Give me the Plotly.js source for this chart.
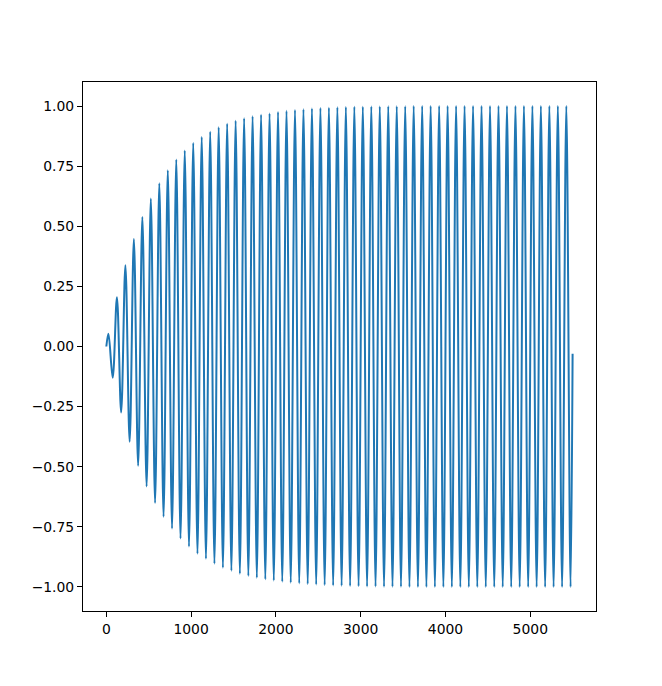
<!DOCTYPE html>
<html>
<head>
<meta charset="utf-8">
<script src="https://cdn.plot.ly/plotly-3.0.1.min.js"></script>
<style>
  html, body { margin: 0; padding: 0; background: #ffffff; }
  #chart { width: 662px; height: 686px; }
</style>
</head>
<body>
<div id="chart"></div>
<script>
// Values.
const startPoint = { x: 0, y: 0 };
const endPoint = { x: 5499, y: -0.03 };

const peakX = [25, 125, 225, 325, 425, 525, 625, 725, 825, 925,
  1025, 1125, 1225, 1325, 1425, 1525, 1625, 1725, 1825, 1925,
  2025, 2125, 2225, 2325, 2425, 2525, 2625, 2725, 2825, 2925,
  3025, 3125, 3225, 3325, 3425, 3525, 3625, 3725, 3825, 3925,
  4025, 4125, 4225, 4325, 4425, 4525, 4625, 4725, 4825, 4925,
  5025, 5125, 5225, 5325, 5425];

const peakValues = [0.053, 0.205, 0.338, 0.447, 0.539, 0.615, 0.679, 0.733, 0.778, 0.815,
  0.846, 0.871, 0.893, 0.912, 0.926, 0.939, 0.949, 0.958, 0.964, 0.969,
  0.975, 0.980, 0.984, 0.987, 0.990, 0.992, 0.993, 0.995, 0.996, 0.997,
  0.997, 0.998, 0.998, 0.999, 0.999, 0.999, 1.0, 1.0, 1.0, 1.0,
  1.0, 1.0, 1.0, 1.0, 1.0, 1.0, 1.0, 1.0, 1.0, 1.0,
  1.0, 1.0, 1.0, 1.0, 1.0];

const troughX = [75, 175, 275, 375, 475, 575, 675, 775, 875, 975,
  1075, 1175, 1275, 1375, 1475, 1575, 1675, 1775, 1875, 1975,
  2075, 2175, 2275, 2375, 2475, 2575, 2675, 2775, 2875, 2975,
  3075, 3175, 3275, 3375, 3475, 3575, 3675, 3775, 3875, 3975,
  4075, 4175, 4275, 4375, 4475, 4575, 4675, 4775, 4875, 4975,
  5075, 5175, 5275, 5375, 5475];

const troughValues = [-0.130, -0.274, -0.396, -0.496, -0.582, -0.651, -0.708, -0.757, -0.799, -0.832,
  -0.862, -0.883, -0.903, -0.920, -0.933, -0.945, -0.954, -0.962, -0.968, -0.973,
  -0.978, -0.982, -0.985, -0.988, -0.990, -0.992, -0.994, -0.995, -0.996, -0.997,
  -0.998, -0.998, -0.999, -0.999, -0.999, -1.0, -1.0, -1.0, -1.0, -1.0,
  -1.0, -1.0, -1.0, -1.0, -1.0, -1.0, -1.0, -1.0, -1.0, -1.0,
  -1.0, -1.0, -1.0, -1.0, -1.0];

const xTickValues = [0, 1000, 2000, 3000, 4000, 5000];
const xTickLabels = ['0', '1000', '2000', '3000', '4000', '5000'];
const yTickValues = [-1.0, -0.75, -0.5, -0.25, 0, 0.25, 0.5, 0.75, 1.0];
const yTickLabels = ['\u22121.00', '\u22120.75', '\u22120.50', '\u22120.25', '0.00', '0.25', '0.50', '0.75', '1.00'];

// Interleave turning points into one line
const xs = [startPoint.x];
const ys = [startPoint.y];
for (let i = 0; i < peakX.length; i++) {
  xs.push(peakX[i]); ys.push(peakValues[i]);
  xs.push(troughX[i]); ys.push(troughValues[i]);
}
xs.push(endPoint.x); ys.push(endPoint.y);

const trace = {
  x: xs, y: ys,
  type: 'scatter', mode: 'lines',
  line: { color: '#1f77b4', width: 2, shape: 'spline', smoothing: 1 },
  hoverinfo: 'skip'
};

const axisCommon = {
  showgrid: false, zeroline: false,
  showline: true, mirror: true, linecolor: '#000000', linewidth: 1,
  ticks: 'outside', ticklen: 5, tickwidth: 1, tickcolor: '#000000',
  tickfont: { family: 'DejaVu Sans', size: 13.9, color: '#000000' }
};

const layout = {
  width: 662, height: 686,
  margin: { l: 83, r: 66, t: 82, b: 75, pad: 0 },
  paper_bgcolor: '#ffffff', plot_bgcolor: '#ffffff',
  showlegend: false,
  xaxis: Object.assign({}, axisCommon, {
    range: [-275, 5775], tickmode: 'array', tickvals: xTickValues, ticktext: xTickLabels
  }),
  yaxis: Object.assign({}, axisCommon, {
    range: [-1.1, 1.1], tickmode: 'array', tickvals: yTickValues, ticktext: yTickLabels
  })
};

Plotly.newPlot('chart', [trace], layout, { staticPlot: true, displayModeBar: false });
</script>
</body>
</html>
